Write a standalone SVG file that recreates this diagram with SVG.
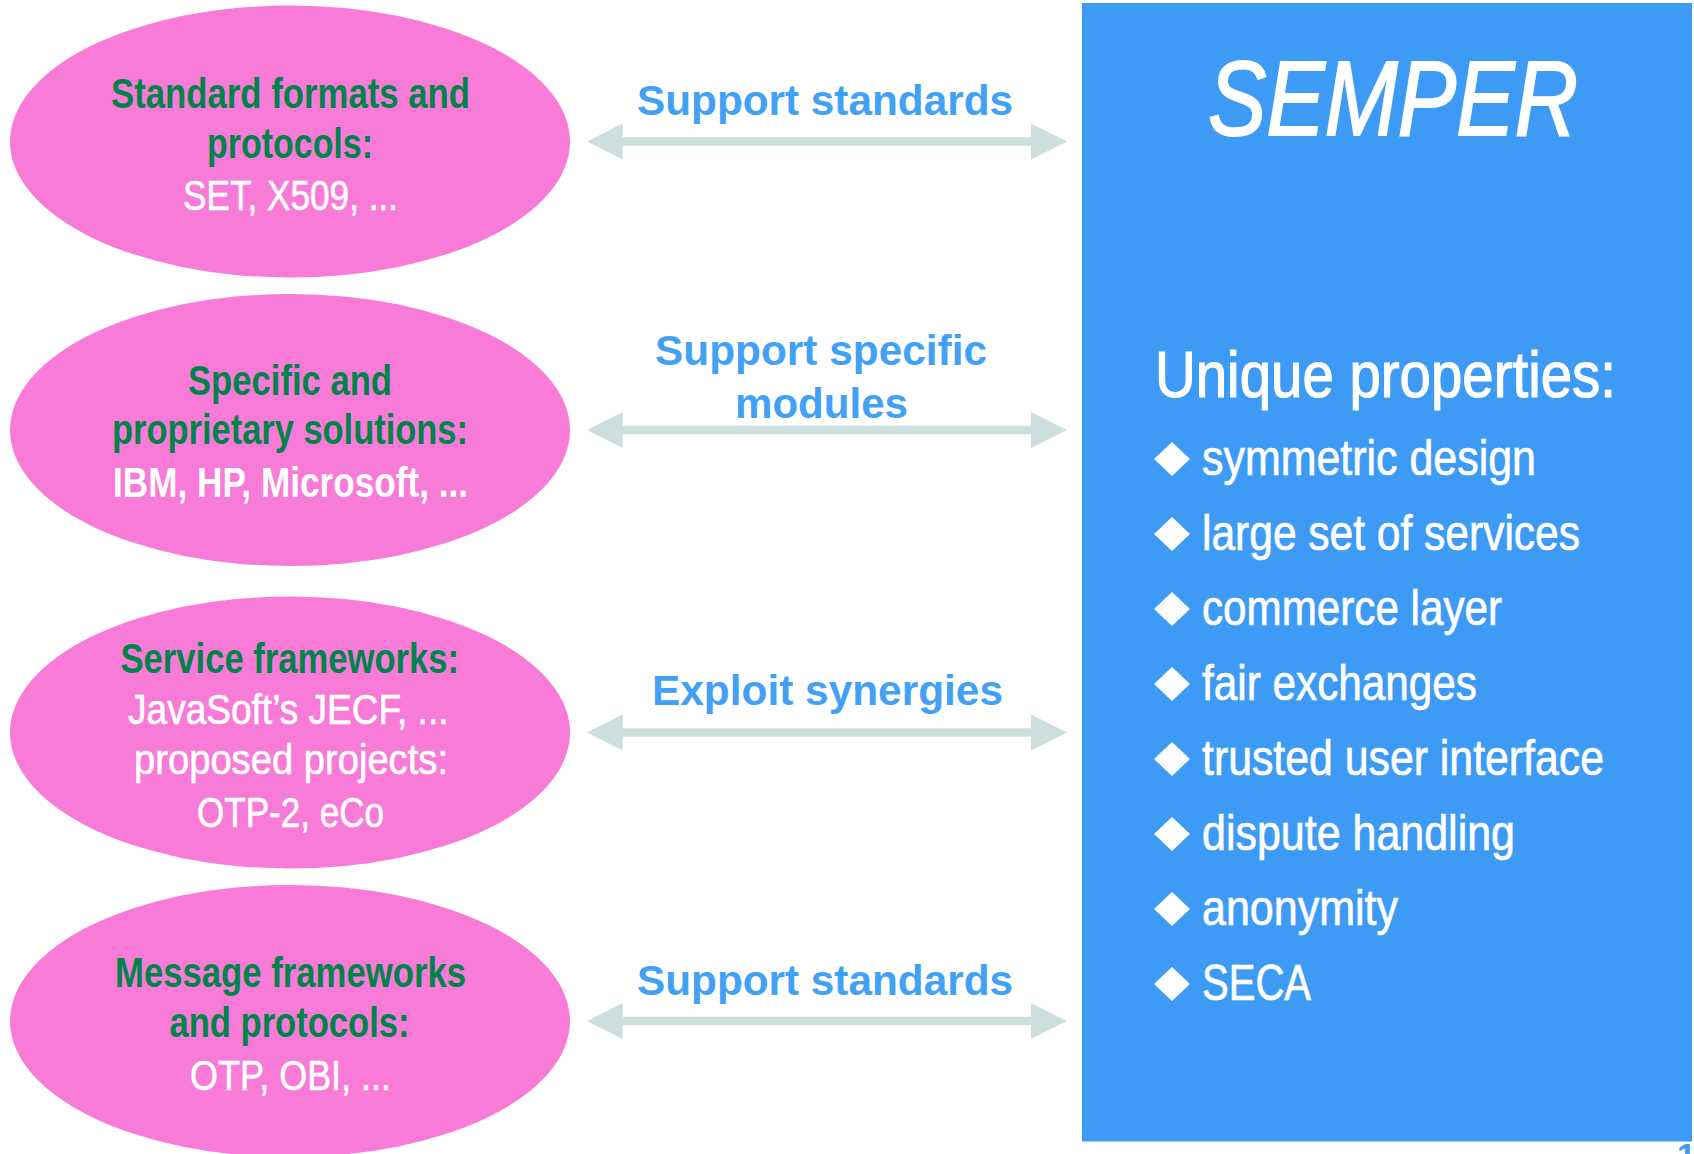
<svg xmlns="http://www.w3.org/2000/svg" width="1694" height="1154" viewBox="0 0 1694 1154">
<defs>
<style>
.ell{fill:#f87bd8;stroke:none}
.g{font-family:"Liberation Sans Narrow","Liberation Sans",Arial,sans-serif;font-weight:bold;font-size:42px;fill:#00834a}
.w{font-family:"Liberation Sans Narrow","Liberation Sans",Arial,sans-serif;font-size:42px;fill:#ffffff;stroke:#ffffff;stroke-width:0.6px}
.wb{font-weight:bold;stroke-width:0}
.lbl{font-family:"Liberation Sans",Arial,sans-serif;font-weight:bold;font-size:42px;fill:#42a1f5}
.conn{fill:#cddfdc;stroke:none}
.pt{font-family:"Liberation Sans Narrow","Liberation Sans",Arial,sans-serif;font-size:50px;fill:#ffffff;stroke:#ffffff;stroke-width:0.7px}
.dia{fill:#ffffff}
</style>
<path id="dbl" d="M0,0 L35.7,-18 L35.7,-4.2 L444,-4.2 L444,-18 L480,0 L444,18 L444,4.2 L35.7,4.2 L35.7,18 Z"/>
</defs>
<rect width="1694" height="1154" fill="#ffffff"/>

<g id="connectors">
<use href="#dbl" class="conn" x="587" y="141.5"/>
<use href="#dbl" class="conn" x="587" y="430"/>
<use href="#dbl" class="conn" x="587" y="732.5"/>
<use href="#dbl" class="conn" x="587" y="1021"/>
<text class="lbl" x="637" y="115" textLength="376" lengthAdjust="spacingAndGlyphs">Support standards</text>
<text class="lbl" x="655" y="365" textLength="332" lengthAdjust="spacingAndGlyphs">Support specific</text>
<text class="lbl" x="735" y="418" textLength="173" lengthAdjust="spacingAndGlyphs">modules</text>
<text class="lbl" x="652" y="705" textLength="351" lengthAdjust="spacingAndGlyphs">Exploit synergies</text>
<text class="lbl" x="637" y="995" textLength="376" lengthAdjust="spacingAndGlyphs">Support standards</text>
</g>

<g id="node-standard-formats">
<ellipse class="ell" cx="290" cy="141.5" rx="280" ry="136"/>
<text class="g" x="111" y="108" textLength="359" lengthAdjust="spacingAndGlyphs">Standard formats and</text>
<text class="g" x="207" y="158" textLength="166" lengthAdjust="spacingAndGlyphs">protocols:</text>
<text class="w" x="183" y="210" textLength="215" lengthAdjust="spacingAndGlyphs">SET, X509, ...</text>
</g>

<g id="node-specific-solutions">
<ellipse class="ell" cx="290" cy="430" rx="280" ry="136"/>
<text class="g" x="188" y="395" textLength="204" lengthAdjust="spacingAndGlyphs">Specific and</text>
<text class="g" x="112" y="444" textLength="356" lengthAdjust="spacingAndGlyphs">proprietary solutions:</text>
<text class="w wb" x="113" y="497" textLength="355" lengthAdjust="spacingAndGlyphs">IBM, HP, Microsoft, ...</text>
</g>

<g id="node-service-frameworks">
<ellipse class="ell" cx="290" cy="732.5" rx="280" ry="136"/>
<text class="g" x="120.5" y="673" textLength="338.5" lengthAdjust="spacingAndGlyphs">Service frameworks:</text>
<text class="w" x="128" y="724" textLength="320.5" lengthAdjust="spacingAndGlyphs">JavaSoft’s JECF, ...</text>
<text class="w" x="134" y="774" textLength="314" lengthAdjust="spacingAndGlyphs">proposed projects:</text>
<text class="w" x="197" y="827" textLength="187" lengthAdjust="spacingAndGlyphs">OTP-2, eCo</text>
</g>

<g id="node-message-frameworks">
<ellipse class="ell" cx="290" cy="1021" rx="280" ry="136"/>
<text class="g" x="115" y="987" textLength="351" lengthAdjust="spacingAndGlyphs">Message frameworks</text>
<text class="g" x="169.5" y="1037" textLength="240" lengthAdjust="spacingAndGlyphs">and protocols:</text>
<text class="w" x="190" y="1090" textLength="201" lengthAdjust="spacingAndGlyphs">OTP, OBI, ...</text>
</g>

<g id="node-semper">
<rect x="1082" y="3" width="610" height="1138.5" fill="#3d9bf5"/>
<text x="1208" y="135" font-family="Liberation Sans Narrow, Liberation Sans, Arial, sans-serif" font-style="italic" font-size="106" fill="#ffffff" stroke="#ffffff" stroke-width="2" textLength="370" lengthAdjust="spacingAndGlyphs">SEMPER</text>
<text x="1155" y="397" font-family="Liberation Sans Narrow, Liberation Sans, Arial, sans-serif" font-size="64" fill="#ffffff" stroke="#ffffff" stroke-width="1.2" textLength="461" lengthAdjust="spacingAndGlyphs">Unique properties:</text>
<g id="bullets">
<path class="dia" d="M1154,459 L1172,442 L1190,459 L1172,476 Z"/>
<text class="pt" x="1202" y="475" textLength="334" lengthAdjust="spacingAndGlyphs">symmetric design</text>
<path class="dia" d="M1154,534 L1172,517 L1190,534 L1172,551 Z"/>
<text class="pt" x="1202" y="550" textLength="378" lengthAdjust="spacingAndGlyphs">large set of services</text>
<path class="dia" d="M1154,609 L1172,592 L1190,609 L1172,626 Z"/>
<text class="pt" x="1202" y="625" textLength="300" lengthAdjust="spacingAndGlyphs">commerce layer</text>
<path class="dia" d="M1154,684 L1172,667 L1190,684 L1172,701 Z"/>
<text class="pt" x="1202" y="700" textLength="275" lengthAdjust="spacingAndGlyphs">fair exchanges</text>
<path class="dia" d="M1154,759 L1172,742 L1190,759 L1172,776 Z"/>
<text class="pt" x="1202" y="775" textLength="402" lengthAdjust="spacingAndGlyphs">trusted user interface</text>
<path class="dia" d="M1154,834 L1172,817 L1190,834 L1172,851 Z"/>
<text class="pt" x="1202" y="850" textLength="313" lengthAdjust="spacingAndGlyphs">dispute handling</text>
<path class="dia" d="M1154,909 L1172,892 L1190,909 L1172,926 Z"/>
<text class="pt" x="1202" y="925" textLength="196" lengthAdjust="spacingAndGlyphs">anonymity</text>
<path class="dia" d="M1154,984 L1172,967 L1190,984 L1172,1001 Z"/>
<text class="pt" x="1202" y="1000" textLength="109" lengthAdjust="spacingAndGlyphs">SECA</text>
</g>
</g>

<text x="1677" y="1167" font-family="Liberation Sans, Arial, sans-serif" font-weight="bold" font-size="34" fill="#3d9bf5">1</text>
</svg>
